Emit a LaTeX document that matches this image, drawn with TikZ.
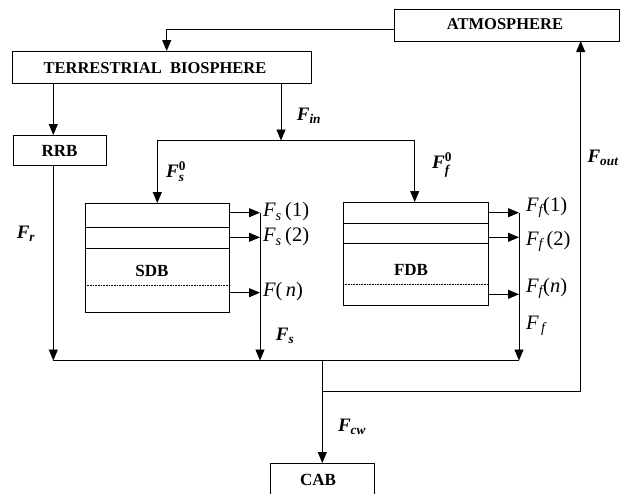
\documentclass[tikz,border=0pt]{standalone}
\usepackage{amsmath}
\usepackage{fontspec}
\setmainfont{Liberation Serif}
\usetikzlibrary{arrows.meta,calc}
\newcommand{\bfi}[1]{\text{\bfseries\itshape #1}}
\newcommand{\rmi}[1]{\text{\itshape #1}}
\tikzset{
  box/.style={draw, line width=0.9pt, inner sep=0pt, outer sep=0pt},
  boxtxt/.style={font=\bfseries\fontsize{16.5}{19}\selectfont, inner sep=0pt},
  smtxt/.style={font=\bfseries\fontsize{17}{20}\selectfont, inner sep=0pt},
  lab/.style={font=\fontsize{19}{22}\selectfont, inner sep=0pt},
  rlab/.style={font=\fontsize{20.5}{23}\selectfont, inner sep=0pt},
  ln/.style={line width=0.9pt},
  arr/.style={line width=0.9pt, -{Triangle[length=11pt,width=9pt]}},
}
\begin{document}
\begin{tikzpicture}[x=1pt,y=-1pt]
\clip (0,0) rectangle (626,493);
% boxes
\node[box, minimum width=225pt, minimum height=32pt] (atm) at (506.5,25) {};
\node[boxtxt] (atmt) at (505,24) {ATMOSPHERE};
\node[box, minimum width=299pt, minimum height=32pt] (tb) at (162,67) {};
\node[boxtxt] (tbt) at (155,68) {TERRESTRIAL\ \ BIOSPHERE};
\node[box, minimum width=93pt, minimum height=30pt] (rrb) at (59.5,150) {};
\node[smtxt] (rrbt) at (59.5,151) {RRB};
\node[box, minimum width=144pt, minimum height=109pt] (sdb) at (157,257.5) {};
\node[smtxt] (sdbt) at (152,271) {SDB};
\node[box, minimum width=145pt, minimum height=103pt] (fdb) at (415.5,253.5) {};
\node[smtxt] (fdbt) at (411,270) {FDB};
\node[box, minimum width=104pt, minimum height=44pt] (cab) at (322.5,485) {};
\node[smtxt] (cabt) at (318,480) {CAB};
% partitions
\draw[ln] (85,227.3) -- (229,227.3);
\draw[ln] (85,248.3) -- (229,248.3);
\draw[line width=0.6pt, densely dotted] (85,285) -- (229,285);
\draw[ln] (343,223.3) -- (488,223.3);
\draw[ln] (343,243.3) -- (488,243.3);
\draw[line width=0.6pt, densely dotted] (343,284.3) -- (488,284.3);
% coordinates
\coordinate (ac) at (166.7,29);
\coordinate (fin) at (281,140.5);
\coordinate (dl) at (157.3,140.5);
\coordinate (dr) at (414.7,140.5);
\coordinate (rbot) at (53.3,360.5);
\coordinate (s1) at (260,212.7);
\coordinate (s2) at (260,237.3);
\coordinate (sn) at (260,292.7);
\coordinate (sbot) at (260,360.5);
\coordinate (f1) at (519,212.7);
\coordinate (f2) at (519,237.3);
\coordinate (fn) at (519,294.3);
\coordinate (fbot) at (519,360.5);
\coordinate (cj) at (322.3,360.5);
\coordinate (cj2) at (322.3,391);
\coordinate (oj) at (580.7,391);
% connectors
\draw[arr] (atm.west |- ac) -- (ac) -- (tb.north -| ac);
\draw[arr] (tb.south -| rbot) -- (rrb.north -| rbot);
\draw[arr] (tb.south -| fin) -- (fin);
\draw[arr] (fin) -- (dl) -- (sdb.north -| dl);
\draw[arr] (fin) -- (dr) -- (fdb.north -| dr);
\draw[arr] (rrb.south -| rbot) -- (rbot);
\draw[arr] (sdb.east |- s1) -- (s1);
\draw[arr] (sdb.east |- s2) -- (s2);
\draw[arr] (sdb.east |- sn) -- (sn);
\draw[arr] (s1) -- (sbot);
\draw[arr] (fdb.east |- f1) -- (f1);
\draw[arr] (fdb.east |- f2) -- (f2);
\draw[arr] (fdb.east |- fn) -- (fn);
\draw[arr] (f1) -- (fbot);
\draw[ln] (rbot) -- (fbot);
\draw[arr] (cj) -- (cab.north -| cj);
\draw[ln] (cj2) -- (oj);
\draw[arr] (oj) -- (atm.south -| oj);
% labels
\node[lab] (lfin) at (309,116) {$\bfi{F}_{\bfi{in}}$};
\node[lab] (lfs0) at (176,172) {$\bfi{F}_{\bfi{s}}^{\text{\bfseries 0}}$};
\node[lab] (lff0) at (442,165) {$\bfi{F}_{\bfi{f}}^{\text{\bfseries 0}}$};
\node[lab] (lfout) at (603,158) {$\bfi{F}_{\bfi{out}}$};
\node[lab] (lfr) at (26,234) {$\bfi{F}_{\bfi{r}}$};
\node[rlab, anchor=west] (ls1) at (263,212) {$\rmi{F}_{\rmi{s}}\text{\,(1)}$};
\node[rlab, anchor=west] (ls2) at (263,237) {$\rmi{F}_{\rmi{s}}\text{\,(2)}$};
\node[rlab, anchor=west] (lsn) at (263,292) {$\rmi{F}\text{(\,\itshape n\upshape)}$};
\node[lab] (lfs) at (285,336) {$\bfi{F}_{\bfi{s}}$};
\node[rlab, anchor=west] (lf1) at (526,207) {$\rmi{F}_{\rmi{f}}\text{(1)}$};
\node[rlab, anchor=west] (lf2) at (526,241) {$\rmi{F}_{\rmi{f}}\text{\,(2)}$};
\node[rlab, anchor=west] (lfn) at (526,288) {$\rmi{F}_{\rmi{f}}\text{(\itshape n\upshape)}$};
\node[rlab, anchor=west] (lff) at (526,326) {$\rmi{F}_{\,\rmi{f}}$};
\node[lab] (lfcw) at (352,427) {$\bfi{F}_{\bfi{cw}}$};
\end{tikzpicture}
\end{document}
